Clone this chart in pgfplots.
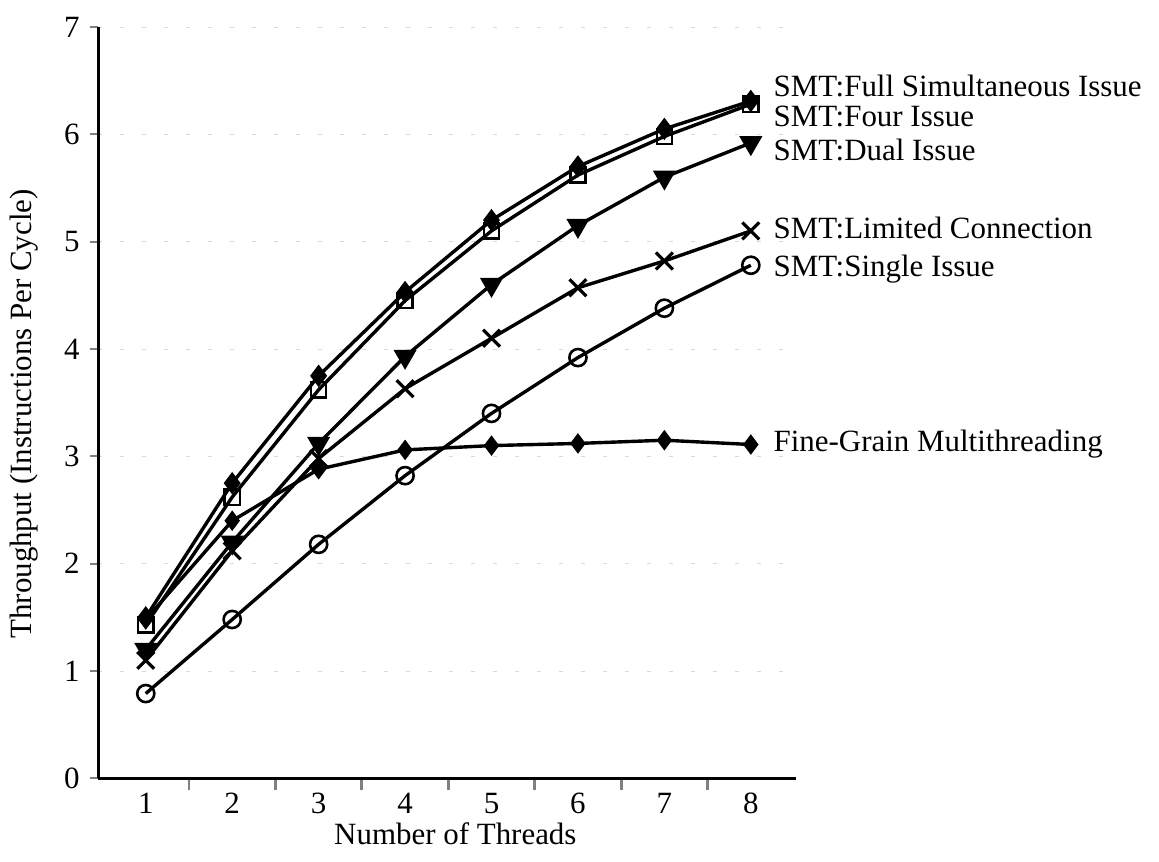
\documentclass[border=0pt]{standalone}
\usepackage{fontspec}
\setmainfont{Liberation Serif}
\usepackage{pgfplots}
\pgfplotsset{compat=1.18}
\begin{document}
\fontsize{15.5}{18}\selectfont
\begin{tikzpicture}
\begin{axis}[
  name=ax,
  scale only axis,
  width=349.5pt, height=376.5pt,
  xmin=0.45, xmax=8.52, ymin=0, ymax=7,
  axis x line*=bottom, axis y line*=left,
  axis line style={line width=1.5pt},
  xtick={1,...,8},
  minor xtick={1.5,2.5,...,7.5},
  major x tick style={draw=none},
  minor x tick style={line width=1.4pt},
  minor tick length=6pt,
  ytick={0,...,7},
  major y tick style={line width=1pt},
  major tick length=4pt,
  tick align=outside,
  /pgf/number format/assume math mode=true,
  ticklabel style={font=\fontsize{15.5}{18}\selectfont},
  label style={font=\fontsize{15.5}{18}\selectfont},
  xticklabel style={yshift=2pt},
  xlabel={Number of Threads},
  ylabel={Throughput (Instructions Per Cycle)},
  every axis x label/.style={at={(rel axis cs:0.512,0)}, anchor=north, yshift=-17pt},
  every axis y label/.style={at={(rel axis cs:0,0.485)}, anchor=center, xshift=-37pt, rotate=90},
  ymajorgrids,
  grid style={gray!30, line width=0.4pt, dash pattern=on 2pt off 9pt},
  clip=false,
  every axis plot/.append style={black, line width=1.7pt},
]
% Fine-Grain Multithreading
\addplot[mark=diamond*, mark size=4.5pt, mark options={solid, fill=black, line width=0.8pt}]
  coordinates {(1,1.48) (2,2.40) (3,2.88) (4,3.06) (5,3.10) (6,3.12) (7,3.15) (8,3.11)};
% Single issue
\addplot[mark=o, mark size=4.3pt, mark options={solid, fill=white, line width=1.3pt}]
  coordinates {(1,0.79) (2,1.48) (3,2.18) (4,2.82) (5,3.40) (6,3.92) (7,4.38) (8,4.78)};
% Limited connection
\addplot[mark=x, mark size=6pt, mark options={solid, line width=1.6pt}]
  coordinates {(1,1.10) (2,2.12) (3,2.98) (4,3.63) (5,4.10) (6,4.57) (7,4.82) (8,5.10)};
% Dual issue
\addplot[mark=triangle*, mark size=5pt, mark options={solid, fill=black, rotate=180}]
  coordinates {(1,1.20) (2,2.20) (3,3.12) (4,3.93) (5,4.60) (6,5.15) (7,5.60) (8,5.92)};
% Full simultaneous issue
\addplot[mark=diamond*, mark size=5pt, mark options={solid, fill=black, line width=0.8pt}]
  coordinates {(1,1.50) (2,2.75) (3,3.75) (4,4.53) (5,5.20) (6,5.70) (7,6.05) (8,6.31)};
% Four issue
\addplot[mark=square, mark size=3.8pt, mark options={solid, line width=1.2pt}]
  coordinates {(1,1.43) (2,2.62) (3,3.62) (4,4.45) (5,5.10) (6,5.62) (7,5.98) (8,6.28)};

\node[anchor=west, inner ysep=0pt] at (axis cs:8.14,6.45) {SMT:Full Simultaneous Issue};
\node[anchor=west, inner ysep=0pt] at (axis cs:8.14,6.17) {SMT:Four Issue};
\node[anchor=west] at (axis cs:8.14,5.85) {SMT:Dual Issue};
\node[anchor=west] at (axis cs:8.14,5.13) {SMT:Limited Connection};
\node[anchor=west] at (axis cs:8.14,4.74) {SMT:Single Issue};
\node[anchor=west] at (axis cs:8.14,3.11) {Fine-Grain Multithreading};
\end{axis}
\path ([xshift=-48pt,yshift=-41.5pt]ax.south west) rectangle ([xshift=182pt,yshift=13.5pt]ax.north east);
\end{tikzpicture}
\end{document}
